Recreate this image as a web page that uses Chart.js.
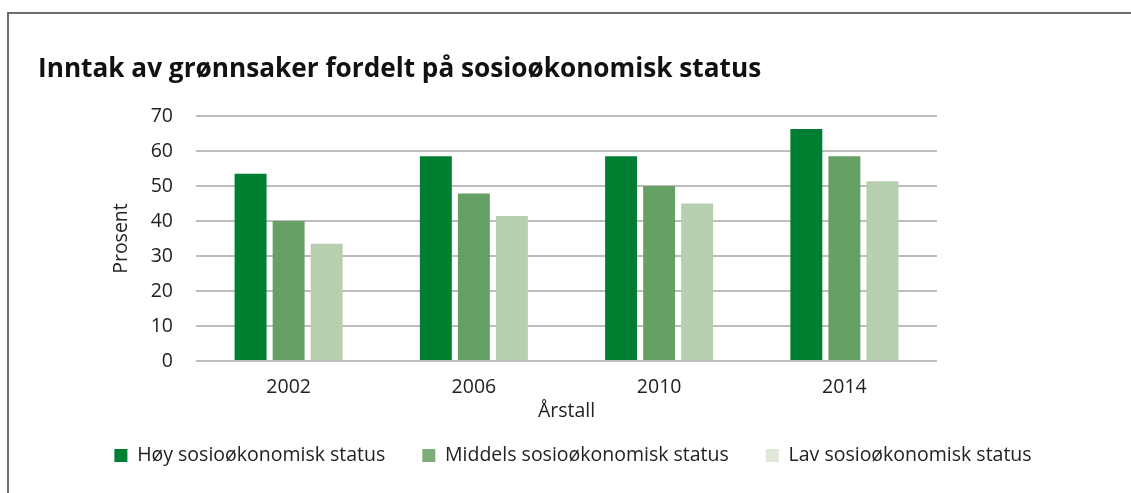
<!DOCTYPE html>
<html>
<head>
<meta charset="utf-8">
<script src="https://cdn.jsdelivr.net/npm/chart.js@4/dist/chart.umd.min.js"></script>
<style>
  html, body { margin: 0; padding: 0; background: #fff; overflow: hidden; }
  #frame {
    position: absolute; left: 7px; top: 12px; width: 1300px; height: 700px;
    border-left: 2px solid #6e6e6e; border-top: 2px solid #6e6e6e;
  }
  #chartBox { position: absolute; left: 0; top: 0; width: 1131px; height: 493px; }
</style>
</head>
<body>
<div id="frame"></div>
<div id="chartBox"><canvas id="graphicGronnsaker"></canvas></div>
<script>
// Inntak av grønnsaker - sosioøkonomisk status
const years = ['2002', '2006', '2010', '2014'];
const hoy = [53.5, 58.5, 58.5, 66.3];
const middels = [40, 47.9, 50, 58.5];
const lav = [33.5, 41.4, 45, 51.4];
const seriesNames = ['Høy sosioøkonomisk status', 'Middels sosioøkonomisk status', 'Lav sosioøkonomisk status'];
const barColors = ['#007f33', '#67a064', '#b7cfae'];
const legendColors = ['#007f33', '#7dad78', '#dde8d9'];

const FONT = "'Open Sans', 'Noto Sans', sans-serif";
const TXT = '#222222';

let chart1;
function getDrawGraphicFirst(){
  var ctx = document.getElementById('graphicGronnsaker').getContext('2d');
  if (chart1) {
    chart1.destroy();
  }

  chart1 = new Chart(ctx, {
    type: 'bar',
    data: {
      labels: years,
      datasets: [
        { label: seriesNames[0], data: hoy, backgroundColor: barColors[0] },
        { label: seriesNames[1], data: middels, backgroundColor: barColors[1] },
        { label: seriesNames[2], data: lav, backgroundColor: barColors[2] },
      ]
    },
    options: {
      responsive: true,
      maintainAspectRatio: false,
      animation: false,
      categoryPercentage: 0.616,
      barPercentage: 0.84,
      layout: { padding: { left: 38, right: 23, top: 0, bottom: 17.75 } },
      plugins: {
        tooltip: { enabled: false },
        title: {
          display: true,
          text: 'Inntak av grønnsaker fordelt på sosioøkonomisk status',
          align: 'start',
          color: '#111',
          font: { family: FONT, size: 26.2, weight: 'bold' },
          padding: { top: 54, bottom: 30.6 }
        },
        legend: {
          position: 'bottom',
          align: 'center',
          labels: {
            boxWidth: 13,
            boxHeight: 13,
            padding: 37,
            color: TXT,
            font: { family: FONT, size: 19.5 },
            generateLabels: function(chart){
              const items = Chart.defaults.plugins.legend.labels.generateLabels(chart);
              items.forEach((it, i) => { it.fillStyle = legendColors[i]; it.strokeStyle = legendColors[i]; it.lineWidth = 0; });
              return items;
            }
          }
        }
      },
      scales: {
        x: {
          grid: { display: false, drawTicks: false },
          border: { display: false },
          ticks: { color: TXT, font: { family: FONT, size: 19.5 }, padding: 15 },
          title: {
            display: true, text: 'Årstall', color: TXT,
            font: { family: FONT, size: 19.5 },
            padding: { top: 0, bottom: -14 }
          },
          afterFit: function(scale){ scale.height = 47.75; }
        },
        y: {
          min: 0,
          max: 70,
          ticks: { stepSize: 10, color: TXT, font: { family: FONT, size: 19.5 }, padding: 23 },
          grid: { color: '#bdbdbd', lineWidth: 2, drawTicks: false },
          border: { display: false },
          title: {
            display: true, text: 'Prosent', color: TXT,
            font: { family: FONT, size: 19.5 },
            padding: { top: 71.3, bottom: 24 }
          },
          afterFit: function(scale){ scale.width = 158; }
        },
        yRight: {
          position: 'right',
          display: true,
          grid: { display: false, drawTicks: false },
          border: { display: false },
          ticks: { display: false },
          afterFit: function(scale){ scale.width = 171; }
        }
      }
    }
  });
}

getDrawGraphicFirst();
</script>
</body>
</html>
